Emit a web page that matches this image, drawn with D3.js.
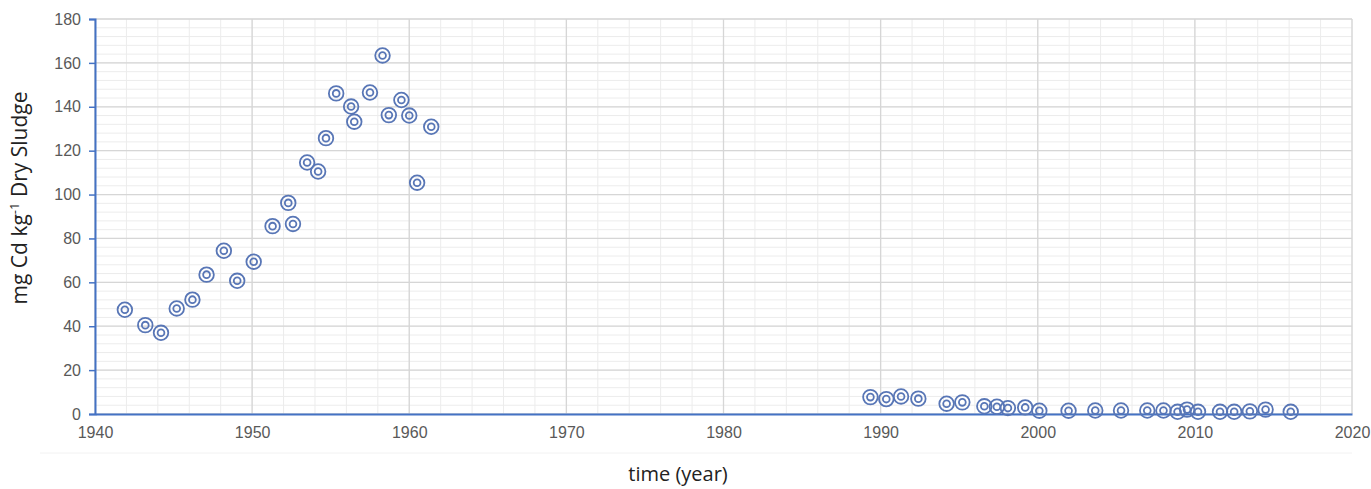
<!DOCTYPE html>
<html>
<head>
<meta charset="utf-8">
<script src="https://cdn.jsdelivr.net/npm/d3@7"></script>
<style>
  body { margin: 0; background: #fff; }
  svg { display: block; font-family: "Open Sans", "Noto Sans", sans-serif; }
</style>
</head>
<body>
<svg id="chart" width="1371" height="489"></svg>
<script>
// years and Cd concentration (mg/kg dry sludge)
const years = [
  1941.9, 1943.2, 1944.2, 1945.2, 1946.2, 1947.1, 1948.2, 1949.05, 1950.1,
  1951.3, 1952.3, 1952.6, 1953.5, 1954.2, 1954.7, 1955.35, 1956.3, 1956.5,
  1957.5, 1958.3, 1958.7, 1959.5, 1960.0, 1960.5, 1961.4,
  1989.35, 1990.36, 1991.3, 1992.4, 1994.2, 1995.2, 1996.6, 1997.4, 1998.1,
  1999.2, 2000.1, 2001.96, 2003.66, 2005.3, 2006.97, 2008.0, 2008.9, 2009.5,
  2010.2, 2011.6, 2012.5, 2013.5, 2014.5, 2016.1
]
const cd = [
  47.5, 40.5, 37.0, 48.1, 52.1, 63.5, 74.4, 60.7, 69.4,
  85.6, 96.2, 86.6, 114.6, 110.5, 125.7, 146.1, 140.1, 133.2,
  146.5, 163.4, 136.2, 143.1, 136.0, 105.4, 130.9,
  7.7, 6.8, 8.0, 7.0, 4.7, 5.3, 3.5, 3.3, 2.7,
  3.0, 1.5, 1.5, 1.6, 1.6, 1.6, 1.6, 1.0, 2.0,
  1.0, 1.0, 1.0, 1.2, 2.0, 1.0
]
const xTicks = [1940, 1950, 1960, 1970, 1980, 1990, 2000, 2010, 2020]
const yTicks = [0, 20, 40, 60, 80, 100, 120, 140, 160, 180]

const margin = { top: 19, right: 19, bottom: 75, left: 95 },
  width = 1371 - margin.left - margin.right,
  height = 489 - margin.top - margin.bottom

const svg = d3.select("#chart")
const g = svg.append("g").attr("transform", `translate(${margin.left},${margin.top})`)

const x = d3.scaleLinear().domain([1940, 2020]).range([0, width])
const y = d3.scaleLinear().domain([0, 180]).range([height, 0])

// minor grid
g.append("g").selectAll("line").data(d3.range(1940, 2021, 2)).join("line")
  .attr("x1", d => x(d)).attr("x2", d => x(d)).attr("y1", 0).attr("y2", height)
  .attr("stroke", "#ececec").attr("stroke-width", 1)
g.append("g").selectAll("line").data(d3.range(0, 181, 4)).join("line")
  .attr("x1", 0).attr("x2", width).attr("y1", d => y(d)).attr("y2", d => y(d))
  .attr("stroke", "#ececec").attr("stroke-width", 1)

// major grid
g.append("g").selectAll("line").data(xTicks).join("line")
  .attr("x1", d => x(d)).attr("x2", d => x(d)).attr("y1", 0).attr("y2", height)
  .attr("stroke", "#d6d6d6").attr("stroke-width", 1.3)
g.append("g").selectAll("line").data(yTicks).join("line")
  .attr("x1", 0).attr("x2", width).attr("y1", d => y(d)).attr("y2", d => y(d))
  .attr("stroke", "#d6d6d6").attr("stroke-width", 1.3)

// axes
const yAxis = g.append("g")
  .call(d3.axisLeft(y).tickValues(yTicks).tickSize(6).tickPadding(8))
yAxis.select(".domain").attr("stroke", "#4472c4").attr("stroke-width", 2)
yAxis.selectAll(".tick line").attr("stroke", "#4472c4").attr("stroke-width", 1.5)
yAxis.selectAll("text").attr("fill", "#595959").style("font-size", "16px")

const xAxis = g.append("g").attr("transform", `translate(0,${height})`)
  .call(d3.axisBottom(x).tickValues(xTicks).tickFormat(d3.format("d")).tickSize(0).tickPadding(13))
xAxis.select(".domain").attr("stroke", "#4472c4").attr("stroke-width", 2)
xAxis.selectAll("text").attr("fill", "#595959").style("font-size", "16px")

// markers: double circles
const pts = years.map((d, i) => ({ yr: d, v: cd[i] }))
const mk = g.append("g").selectAll("g").data(pts).join("g")
  .attr("transform", d => `translate(${x(d.yr)},${y(d.v)})`)
mk.append("circle").attr("r", 7.3).attr("fill", "none")
  .attr("stroke", "#5876b6").attr("stroke-width", 1.8)
mk.append("circle").attr("r", 3.4).attr("fill", "none")
  .attr("stroke", "#5876b6").attr("stroke-width", 1.8)

// faint separator below chart
svg.append("line").attr("x1", 40).attr("x2", 1352).attr("y1", 453).attr("y2", 453)
  .attr("stroke", "#f2f2f2").attr("stroke-width", 1)

// axis titles
svg.append("text").attr("x", 678).attr("y", 481).attr("text-anchor", "middle")
  .attr("fill", "#222").style("font-size", "20px").text("time (year)")

const yl = svg.append("text").attr("transform", "translate(27,198) rotate(-90)")
  .attr("text-anchor", "middle").attr("fill", "#222").style("font-size", "21px")
yl.append("tspan").text("mg Cd kg")
yl.append("tspan").attr("dy", -8).style("font-size", "13px").text("-1")
yl.append("tspan").attr("dy", 8).text(" Dry Sludge")
</script>
</body>
</html>
